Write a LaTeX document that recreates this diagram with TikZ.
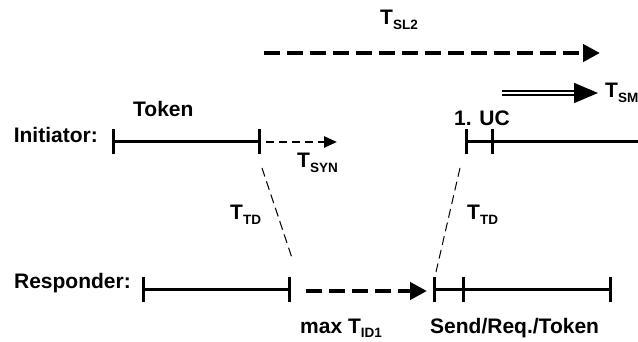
\documentclass[tikz,border=0pt]{standalone}
\usepackage{fontspec}
\setmainfont{Liberation Sans}
\usetikzlibrary{arrows.meta}
\newcommand{\lowidx}[1]{\raisebox{-5pt}{\fontsize{13.5}{14}\selectfont #1}}

\tikzset{
  lbl/.style={font=\fontsize{21}{24}\selectfont\bfseries, inner sep=0pt},
  timeline/.style={line width=3pt},
  bars/.style={timeline, {Bar[width=25pt]}-{Bar[width=25pt]}},
  longdash/.style={line width=4.5pt, dash pattern=on 16pt off 7pt,
    -{Triangle[length=17pt,width=17pt]}},
  shortdash/.style={line width=2.5pt, dash pattern=on 8pt off 5pt,
    -{Triangle[length=13pt,width=11pt]}},
  delay/.style={line width=1pt, dash pattern=on 9pt off 5pt},
  dblarrow/.style={double, line width=1.6pt, double distance=2pt,
    -{Triangle[length=24pt,width=20pt]}}
}

\begin{document}
\begin{tikzpicture}[x=1pt, y=-1pt]
    \useasboundingbox (0,0) rectangle (638,342);

    % time points
    \coordinate (i1) at (112,142);
    \coordinate (i2) at (261,142);
    \coordinate (i3) at (465,142);
    \coordinate (i4) at (494,142);
    \coordinate (iend) at (660,142);
    \coordinate (r1) at (142,289);
    \coordinate (r2) at (291,289);
    \coordinate (r3) at (433,289);
    \coordinate (r4) at (465,289);
    \coordinate (r5) at (612,289);

    % initiator
    \draw[bars] (i1) -- (i2);
    \draw[bars] (i3) -- (i4);
    \draw[timeline] (i4) -- (iend);
    \coordinate (syn0) at (266,142);
    \coordinate (syn1) at (337,142);
    \draw[shortdash] (syn0) -- (syn1);

    % responder
    \draw[bars] (r1) -- (r2);
    \draw[bars] (r3) -- (r4);
    \draw[timeline, -{Bar[width=25pt]}] (r4) -- (r5);
    \coordinate (id0) at (306,291);
    \coordinate (id1) at (427,291);
    \draw[longdash] (id0) -- (id1);

    % transfer delays
    \coordinate (td1a) at (262,168);
    \coordinate (td1b) at (292,258);
    \coordinate (td2a) at (460,168);
    \coordinate (td2b) at (436,272);
    \draw[delay] (td1a) -- (td1b);
    \draw[delay] (td2a) -- (td2b);

    % upper arrows
    \coordinate (sl0) at (264,53);
    \coordinate (sl1) at (600,53);
    \draw[longdash] (sl0) -- (sl1);
    \coordinate (sm0) at (502,93);
    \coordinate (sm1) at (598,93);
    \draw[dblarrow] (sm0) -- (sm1);

    % labels
    \node[lbl, anchor=base east] (init) at (98,143) {Initiator:};
    \node[lbl, anchor=base east] (resp) at (131,288) {Responder:};
    \node[lbl, anchor=base west] (tok) at (133,117) {Token};
    \node[lbl, anchor=base west] (uc) at (454,126) {1. UC};
    \node[lbl, anchor=base west] (tsyn) at (297,168) {T\lowidx{SYN}};
    \node[lbl, anchor=base west] (tsl) at (380,25) {T\lowidx{SL2}};
    \node[lbl, anchor=base west] (tsm) at (605,98) {T\lowidx{SM}};
    \node[lbl, anchor=base west] (ttd1) at (230,220) {T\lowidx{TD}};
    \node[lbl, anchor=base west] (ttd2) at (467,220) {T\lowidx{TD}};
    \node[lbl, anchor=base west] (tid) at (300,333) {max T\lowidx{ID1}};
    \node[lbl, anchor=base west] (srt) at (430,333) {Send/Req./Token};
\end{tikzpicture}
\end{document}
